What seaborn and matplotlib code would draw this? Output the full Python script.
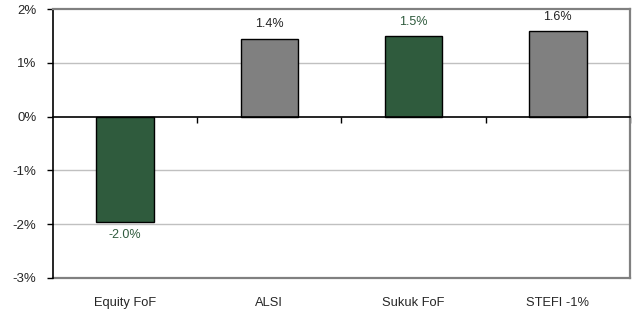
import pandas as pd
import matplotlib
matplotlib.use("Agg")
import matplotlib.pyplot as plt
import seaborn as sns

# values (percent)
funds = ["Equity FoF", "ALSI", "Sukuk FoF", "STEFI -1%"]
returns = [-1.96, 1.45, 1.50, 1.59]
value_labels = ["-2.0%", "1.4%", "1.5%", "1.6%"]
y_ticks = [-3, -2, -1, 0, 1, 2]
y_tick_labels = ["-3%", "-2%", "-1%", "0%", "1%", "2%"]

green = "#2F5B3D"
grey = "#808080"
bar_colors = [green, grey, green, grey]
label_colors = [green, "#222222", green, "#222222"]

sns.set_style("white")
plt.rcParams["font.family"] = ["Liberation Sans", "DejaVu Sans"]

df = pd.DataFrame({"fund": funds, "ret": returns})

fig = plt.figure(figsize=(6.34, 3.10), dpi=100)
ax = fig.add_axes([0.0836, 0.104, 0.9100, 0.866])

sns.barplot(data=df, x="fund", y="ret", hue="fund", palette=bar_colors,
            width=0.4, edgecolor="black", linewidth=1.0, legend=False,
            saturation=1, ax=ax)

ax.set_ylim(-3, 2)
ax.set_xlim(-0.5, len(funds) - 0.5)
ax.set_xlabel("")
ax.set_ylabel("")

# gridlines
for v in y_ticks[1:-1]:
    if v != 0:
        ax.axhline(v, color="#C0C0C0", linewidth=1.0, zorder=0)

ax.set_yticks(y_ticks)
ax.set_yticklabels(y_tick_labels, fontsize=9.5)
ax.tick_params(axis="y", direction="out", length=4, width=1, color="black",
               pad=8, left=True)

# zero axis with tick marks between categories
ax.spines["bottom"].set_position(("data", 0))
ax.spines["bottom"].set_color("black")
ax.spines["bottom"].set_linewidth(1.2)
ax.set_xticks([0.5, 1.5, 2.5, 3.5])
ax.set_xticklabels([])
ax.tick_params(axis="x", direction="out", length=4, width=1, color="black",
               bottom=True)

ax.spines["left"].set_color("black")
ax.spines["left"].set_linewidth(1.2)
ax.spines["top"].set_color(grey)
ax.spines["top"].set_linewidth(1.6)
ax.spines["right"].set_color(grey)
ax.spines["right"].set_linewidth(1.6)

# category labels along the bottom border
sec = ax.secondary_xaxis(0)
sec.set_xticks(range(len(funds)))
sec.set_xticklabels(funds, fontsize=9.3)
sec.tick_params(length=0, pad=14)
sec.spines["bottom"].set_color(grey)
sec.spines["bottom"].set_linewidth(1.6)

# value labels
for i, (v, txt, c) in enumerate(zip(returns, value_labels, label_colors)):
    if v >= 0:
        ax.annotate(txt, (i, v), xytext=(0, 6), textcoords="offset points",
                    ha="center", va="bottom", fontsize=9, color=c)
    else:
        ax.annotate(txt, (i, v), xytext=(0, -5), textcoords="offset points",
                    ha="center", va="top", fontsize=9, color=c)

fig.savefig("out.png", dpi=100)
